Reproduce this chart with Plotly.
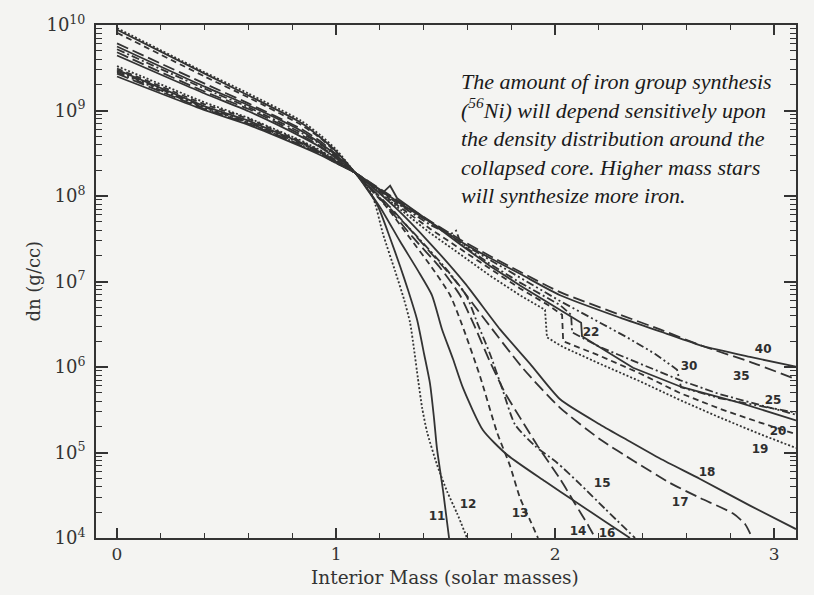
import plotly.graph_objects as go

# Presupernova density profiles: interior mass (solar masses) vs density (g/cc)
# for stars of 11 to 40 solar masses.

mass_11 = [0, 0.40, 0.60, 0.84, 0.93, 1.00, 1.087, 1.187, 1.247, 1.292, 1.329, 1.370, 1.402, 1.429, 1.447, 1.461, 1.489, 1.516]
dens_11 = [8.8e9, 2.7e9, 1.50e9, 7.2e8, 4.8e8, 3.33e8, 1.87e8, 8.0e7, 3.2e7, 1.52e7, 7.9e6, 3.57e6, 1.42e6, 6.4e5, 2.56e5, 1.10e5, 3.5e4, 1.0e4]

mass_12 = [0, 0.40, 0.60, 0.84, 0.93, 1.00, 1.087, 1.164, 1.215, 1.269, 1.311, 1.338, 1.356, 1.374, 1.393, 1.416, 1.461, 1.507, 1.553, 1.598]
dens_12 = [9.2e9, 2.8e9, 1.58e9, 7.6e8, 5.1e8, 3.5e8, 1.87e8, 1.04e8, 3.55e7, 1.34e7, 6.1e6, 3.3e6, 1.62e6, 7.3e5, 3.33e5, 1.72e5, 7.2e4, 3.5e4, 1.93e4, 1.0e4]

mass_13 = [0, 0.40, 0.60, 0.84, 0.93, 1.00, 1.087, 1.224, 1.338, 1.438, 1.521, 1.575, 1.658, 1.735, 1.795, 1.840, 1.886, 1.922]
dens_13 = [8.1e9, 2.5e9, 1.42e9, 6.8e8, 4.7e8, 3.24e8, 1.87e8, 7.8e7, 3.2e7, 1.45e7, 6.9e6, 3.13e6, 7.7e5, 1.72e5, 6.9e4, 2.94e4, 1.61e4, 1.0e4]

mass_14 = [0, 0.40, 0.60, 0.84, 0.93, 1.00, 1.087, 1.224, 1.347, 1.475, 1.566, 1.635, 1.703, 1.772, 1.840, 1.918, 2.023, 2.091, 2.151, 2.183]
dens_14 = [6.1e9, 2.06e9, 1.21e9, 6.1e8, 4.34e8, 3.08e8, 1.87e8, 8.0e7, 3.37e7, 1.45e7, 6.9e6, 2.9e6, 1.15e6, 4.95e5, 2.56e5, 1.22e5, 4.9e4, 2.52e4, 1.41e4, 1.0e4]

mass_15 = [0, 0.40, 0.60, 0.84, 0.93, 1.00, 1.087, 1.224, 1.361, 1.498, 1.594, 1.648, 1.703, 1.758, 1.817, 1.909, 2.009, 2.114, 2.228, 2.365]
dens_15 = [5.2e9, 1.8e9, 1.09e9, 5.5e8, 4.0e8, 2.92e8, 1.87e8, 8.2e7, 3.55e7, 1.45e7, 6.9e6, 3.13e6, 1.42e6, 5.65e5, 2.13e5, 1.19e5, 7.6e4, 4.27e4, 2.2e4, 1.0e4]

mass_16 = [0, 0.40, 0.60, 0.84, 0.93, 1.00, 1.087, 1.201, 1.292, 1.374, 1.438, 1.484, 1.534, 1.580, 1.671, 1.781, 1.954, 2.100, 2.228, 2.342]
dens_16 = [5.6e9, 1.9e9, 1.15e9, 5.8e8, 4.11e8, 3.0e8, 1.87e8, 7.4e7, 2.95e7, 1.34e7, 6.9e6, 2.75e6, 1.24e6, 5.65e5, 1.82e5, 9.4e4, 4.6e4, 2.58e4, 1.56e4, 1.0e4]

mass_17 = [0, 0.40, 0.60, 0.84, 0.93, 1.00, 1.087, 1.247, 1.406, 1.543, 1.680, 1.854, 2.023, 2.205, 2.365, 2.525, 2.662, 2.813, 2.868, 2.900]
dens_17 = [4.8e9, 1.66e9, 1.04e9, 5.2e8, 3.8e8, 2.84e8, 1.87e8, 7.4e7, 2.58e7, 1.03e7, 3.57e6, 9.6e5, 3.33e5, 1.43e5, 7.8e4, 4.4e4, 2.94e4, 1.93e4, 1.45e4, 1.0e4]

mass_18 = [0, 0.40, 0.60, 0.84, 0.93, 1.00, 1.087, 1.269, 1.429, 1.589, 1.749, 1.886, 2.023, 2.205, 2.329, 2.479, 2.662, 2.890, 3.100]
dens_18 = [4.4e9, 1.58e9, 9.8e8, 4.95e8, 3.7e8, 2.77e8, 1.87e8, 7.4e7, 2.8e7, 9.5e6, 2.75e6, 1.09e6, 4.2e5, 2.13e5, 1.40e5, 8.5e4, 4.9e4, 2.39e4, 1.27e4]

mass_19 = [0, 0.40, 0.60, 0.84, 0.93, 1.00, 1.087, 1.292, 1.429, 1.566, 1.703, 1.840, 1.954, 1.963, 2.037, 2.205, 2.388, 2.571, 2.753, 2.936, 3.100]
dens_19 = [3.3e9, 1.24e9, 8.2e8, 4.46e8, 3.42e8, 2.63e8, 1.87e8, 7.0e7, 3.7e7, 2.09e7, 1.17e7, 6.9e6, 4.66e6, 2.22e6, 1.71e6, 1.09e6, 6.8e5, 4.1e5, 2.56e5, 1.64e5, 1.13e5]

mass_20 = [0, 0.40, 0.60, 0.84, 0.93, 1.00, 1.087, 1.292, 1.429, 1.566, 1.703, 1.840, 1.968, 2.032, 2.037, 2.205, 2.388, 2.571, 2.753, 2.936, 3.100]
dens_20 = [3.1e9, 1.18e9, 8.0e8, 4.34e8, 3.33e8, 2.63e8, 1.87e8, 7.4e7, 4.15e7, 2.39e7, 1.41e7, 8.3e6, 5.3e6, 4.08e6, 2.0e6, 1.35e6, 8.4e5, 4.95e5, 3.24e5, 2.24e5, 1.64e5]

mass_22 = [0, 0.40, 0.60, 0.84, 0.93, 1.00, 1.087, 1.215, 1.247, 1.279, 1.429, 1.566, 1.703, 1.840, 2.023, 2.119, 2.123, 2.356, 2.580, 2.845, 3.100]
dens_22 = [3.0e9, 1.12e9, 7.6e8, 4.23e8, 3.24e8, 2.56e8, 1.87e8, 1.10e8, 1.32e8, 9.4e7, 5.0e7, 2.72e7, 1.52e7, 9.0e6, 4.66e6, 3.3e6, 2.29e6, 9.8e5, 5.8e5, 3.8e5, 2.37e5]

mass_25 = [0, 0.40, 0.60, 0.84, 0.93, 1.00, 1.087, 1.292, 1.429, 1.521, 1.548, 1.571, 1.703, 1.840, 2.023, 2.073, 2.078, 2.205, 2.388, 2.571, 2.753, 2.936, 3.100]
dens_25 = [2.9e9, 1.09e9, 7.3e8, 4.11e8, 3.16e8, 2.5e8, 1.87e8, 7.8e7, 4.6e7, 3.55e7, 3.94e7, 2.72e7, 1.61e7, 9.7e6, 5.3e6, 4.08e6, 2.54e6, 1.71e6, 1.09e6, 7.0e5, 4.8e5, 3.6e5, 2.77e5]

mass_30 = [0, 0.40, 0.60, 0.84, 0.93, 1.00, 1.087, 1.292, 1.429, 1.566, 1.703, 1.840, 2.023, 2.205, 2.329, 2.457, 2.557, 2.575, 2.753, 2.936, 3.100]
dens_30 = [2.8e9, 1.06e9, 7.2e8, 4.0e8, 3.16e8, 2.5e8, 1.87e8, 8.0e7, 4.9e7, 2.87e7, 1.79e7, 1.11e7, 5.9e6, 3.3e6, 2.22e6, 1.42e6, 9.3e5, 5.8e5, 4.3e5, 3.5e5, 2.92e5]

mass_35 = [0, 0.40, 0.60, 0.84, 0.93, 1.00, 1.087, 1.292, 1.429, 1.566, 1.703, 1.840, 2.023, 2.297, 2.479, 2.676, 2.890, 3.100]
dens_35 = [2.7e9, 1.04e9, 7.0e8, 3.9e8, 3.08e8, 2.43e8, 1.87e8, 8.5e7, 5.1e7, 3.1e7, 1.99e7, 1.30e7, 7.5e6, 4.08e6, 2.75e6, 1.75e6, 1.15e6, 7.2e5]

mass_40 = [0, 0.40, 0.60, 0.84, 0.93, 1.00, 1.087, 1.292, 1.429, 1.566, 1.703, 1.840, 2.023, 2.297, 2.479, 2.676, 2.890, 3.100]
dens_40 = [2.5e9, 1.01e9, 6.8e8, 3.8e8, 3.0e8, 2.43e8, 1.87e8, 8.2e7, 5.0e7, 2.95e7, 1.88e7, 1.23e7, 6.9e6, 3.77e6, 2.61e6, 1.75e6, 1.31e6, 1.01e6]

# curve labels (star mass) and where they are written
star_names = ["11", "12", "13", "14", "15", "16", "17", "18", "19", "20", "22", "25", "30", "35", "40"]
label_mass = [1.461, 1.603, 1.840, 2.105, 2.215, 2.237, 2.571, 2.694, 2.936, 3.018, 2.164, 2.995, 2.612, 2.850, 2.950]
label_dens = [1.74e4, 2.45e4, 1.93e4, 1.17e4, 4.27e4, 1.11e4, 2.58e4, 5.7e4, 1.07e5, 1.73e5, 2.47e6, 4.0e5, 1.01e6, 7.7e5, 1.58e6]

# y axis decades and tick text
y_decades = [4, 5, 6, 7, 8, 9, 10]
y_ticktext = ["10<sup>%d</sup>" % e for e in y_decades]
x_ticks = [0, 1, 2, 3]

profiles = {
    "11": (mass_11, dens_11), "12": (mass_12, dens_12), "13": (mass_13, dens_13),
    "14": (mass_14, dens_14), "15": (mass_15, dens_15), "16": (mass_16, dens_16),
    "17": (mass_17, dens_17), "18": (mass_18, dens_18), "19": (mass_19, dens_19),
    "20": (mass_20, dens_20), "22": (mass_22, dens_22), "25": (mass_25, dens_25),
    "30": (mass_30, dens_30), "35": (mass_35, dens_35), "40": (mass_40, dens_40),
}

SOLID = "solid"
DOT = "2px,2px"
DASH = "6px,4px"
LONG = "12px,5px"
DASHDOT = "8px,3px,2px,3px"
DASHDOTDOT = "8px,3px,2px,3px,2px,3px"
dash_styles = {
    "11": SOLID, "12": DOT, "13": DASH, "14": LONG, "15": DASHDOT,
    "16": SOLID, "17": LONG, "18": SOLID, "19": DOT, "20": DASH,
    "22": SOLID, "25": DASHDOT, "30": DASHDOTDOT, "35": LONG, "40": SOLID,
}
# profiles with abrupt shell-interface jumps are drawn with straight segments
stepped = {"19", "20", "22", "25", "30"}

INK = "#333333"
BG = "#f4f4f2"
SERIF = "DejaVu Serif"

fig = go.Figure()
for name in star_names:
    m, d = profiles[name]
    shape = "linear" if name in stepped else "spline"
    fig.add_trace(go.Scatter(
        x=m, y=d, mode="lines", name=name, showlegend=False,
        line=dict(color=INK, width=1.8, dash=dash_styles[name],
                  shape=shape, smoothing=0.6),
        hoverinfo="skip",
    ))

# star-mass labels next to each profile
fig.add_trace(go.Scatter(
    x=label_mass, y=label_dens, mode="text", text=star_names,
    textfont=dict(family="DejaVu Sans", size=12, color="#2e2e2e", weight="bold"),
    showlegend=False, hoverinfo="skip",
))

annotations = [
    dict(text="dn (g/cc)", xref="paper", yref="paper", x=-0.09, y=0.5,
         textangle=-90, showarrow=False, xanchor="center", yanchor="middle",
         font=dict(family=SERIF, size=18, color="#333333")),
    dict(text="Interior Mass (solar masses)", xref="paper", yref="paper",
         x=0.4986, y=-0.0775, showarrow=False, xanchor="center", yanchor="middle",
         font=dict(family=SERIF, size=18.5, color="#333333")),
    dict(text="<i>The amount of iron group synthesis<br>"
              "(<sup>56</sup>Ni) will depend sensitively upon<br>"
              "the density distribution around the<br>"
              "collapsed core. Higher mass stars<br>"
              "will synthesize more iron.</i>",
         xref="paper", yref="paper", x=0.5186, y=0.918,
         xanchor="left", yanchor="top", align="left", showarrow=False,
         font=dict(family="Liberation Serif, Times New Roman, serif", size=22, color="#1a1a1a")),
]

minor_y = [k * 10 ** e for e in range(4, 10) for k in range(2, 10)]

fig.update_layout(
    width=814, height=595,
    margin=dict(l=96, r=18, t=14, b=57),
    paper_bgcolor=BG, plot_bgcolor=BG,
    annotations=annotations,
    xaxis=dict(
        range=[-0.096, 3.10], showgrid=False, zeroline=False,
        showline=True, linecolor=INK, linewidth=2, mirror="allticks",
        ticks="inside", ticklen=10, tickwidth=1.6, tickcolor=INK,
        tickmode="array", tickvals=x_ticks, ticktext=[str(v) for v in x_ticks],
        tickfont=dict(family=SERIF, size=17, color="#333333"),
        ticklabelstandoff=0,
        minor=dict(ticks="inside", ticklen=5, tickwidth=1.4, tickcolor=INK,
                   tick0=0, dtick=0.2, showgrid=False),
    ),
    yaxis=dict(
        type="log", range=[4, 10], showgrid=False, zeroline=False,
        showline=True, linecolor=INK, linewidth=2, mirror="allticks",
        ticks="inside", ticklen=12, tickwidth=1.6, tickcolor=INK,
        tickmode="array", tickvals=[10 ** e for e in y_decades], ticktext=y_ticktext,
        tickfont=dict(family=SERIF, size=18, color="#333333"),
        ticklabelstandoff=5,
        minor=dict(ticks="inside", ticklen=6, tickwidth=1.3, tickcolor=INK,
                   tickmode="array", tickvals=minor_y, showgrid=False),
    ),
)

fig.write_html("out.html")
